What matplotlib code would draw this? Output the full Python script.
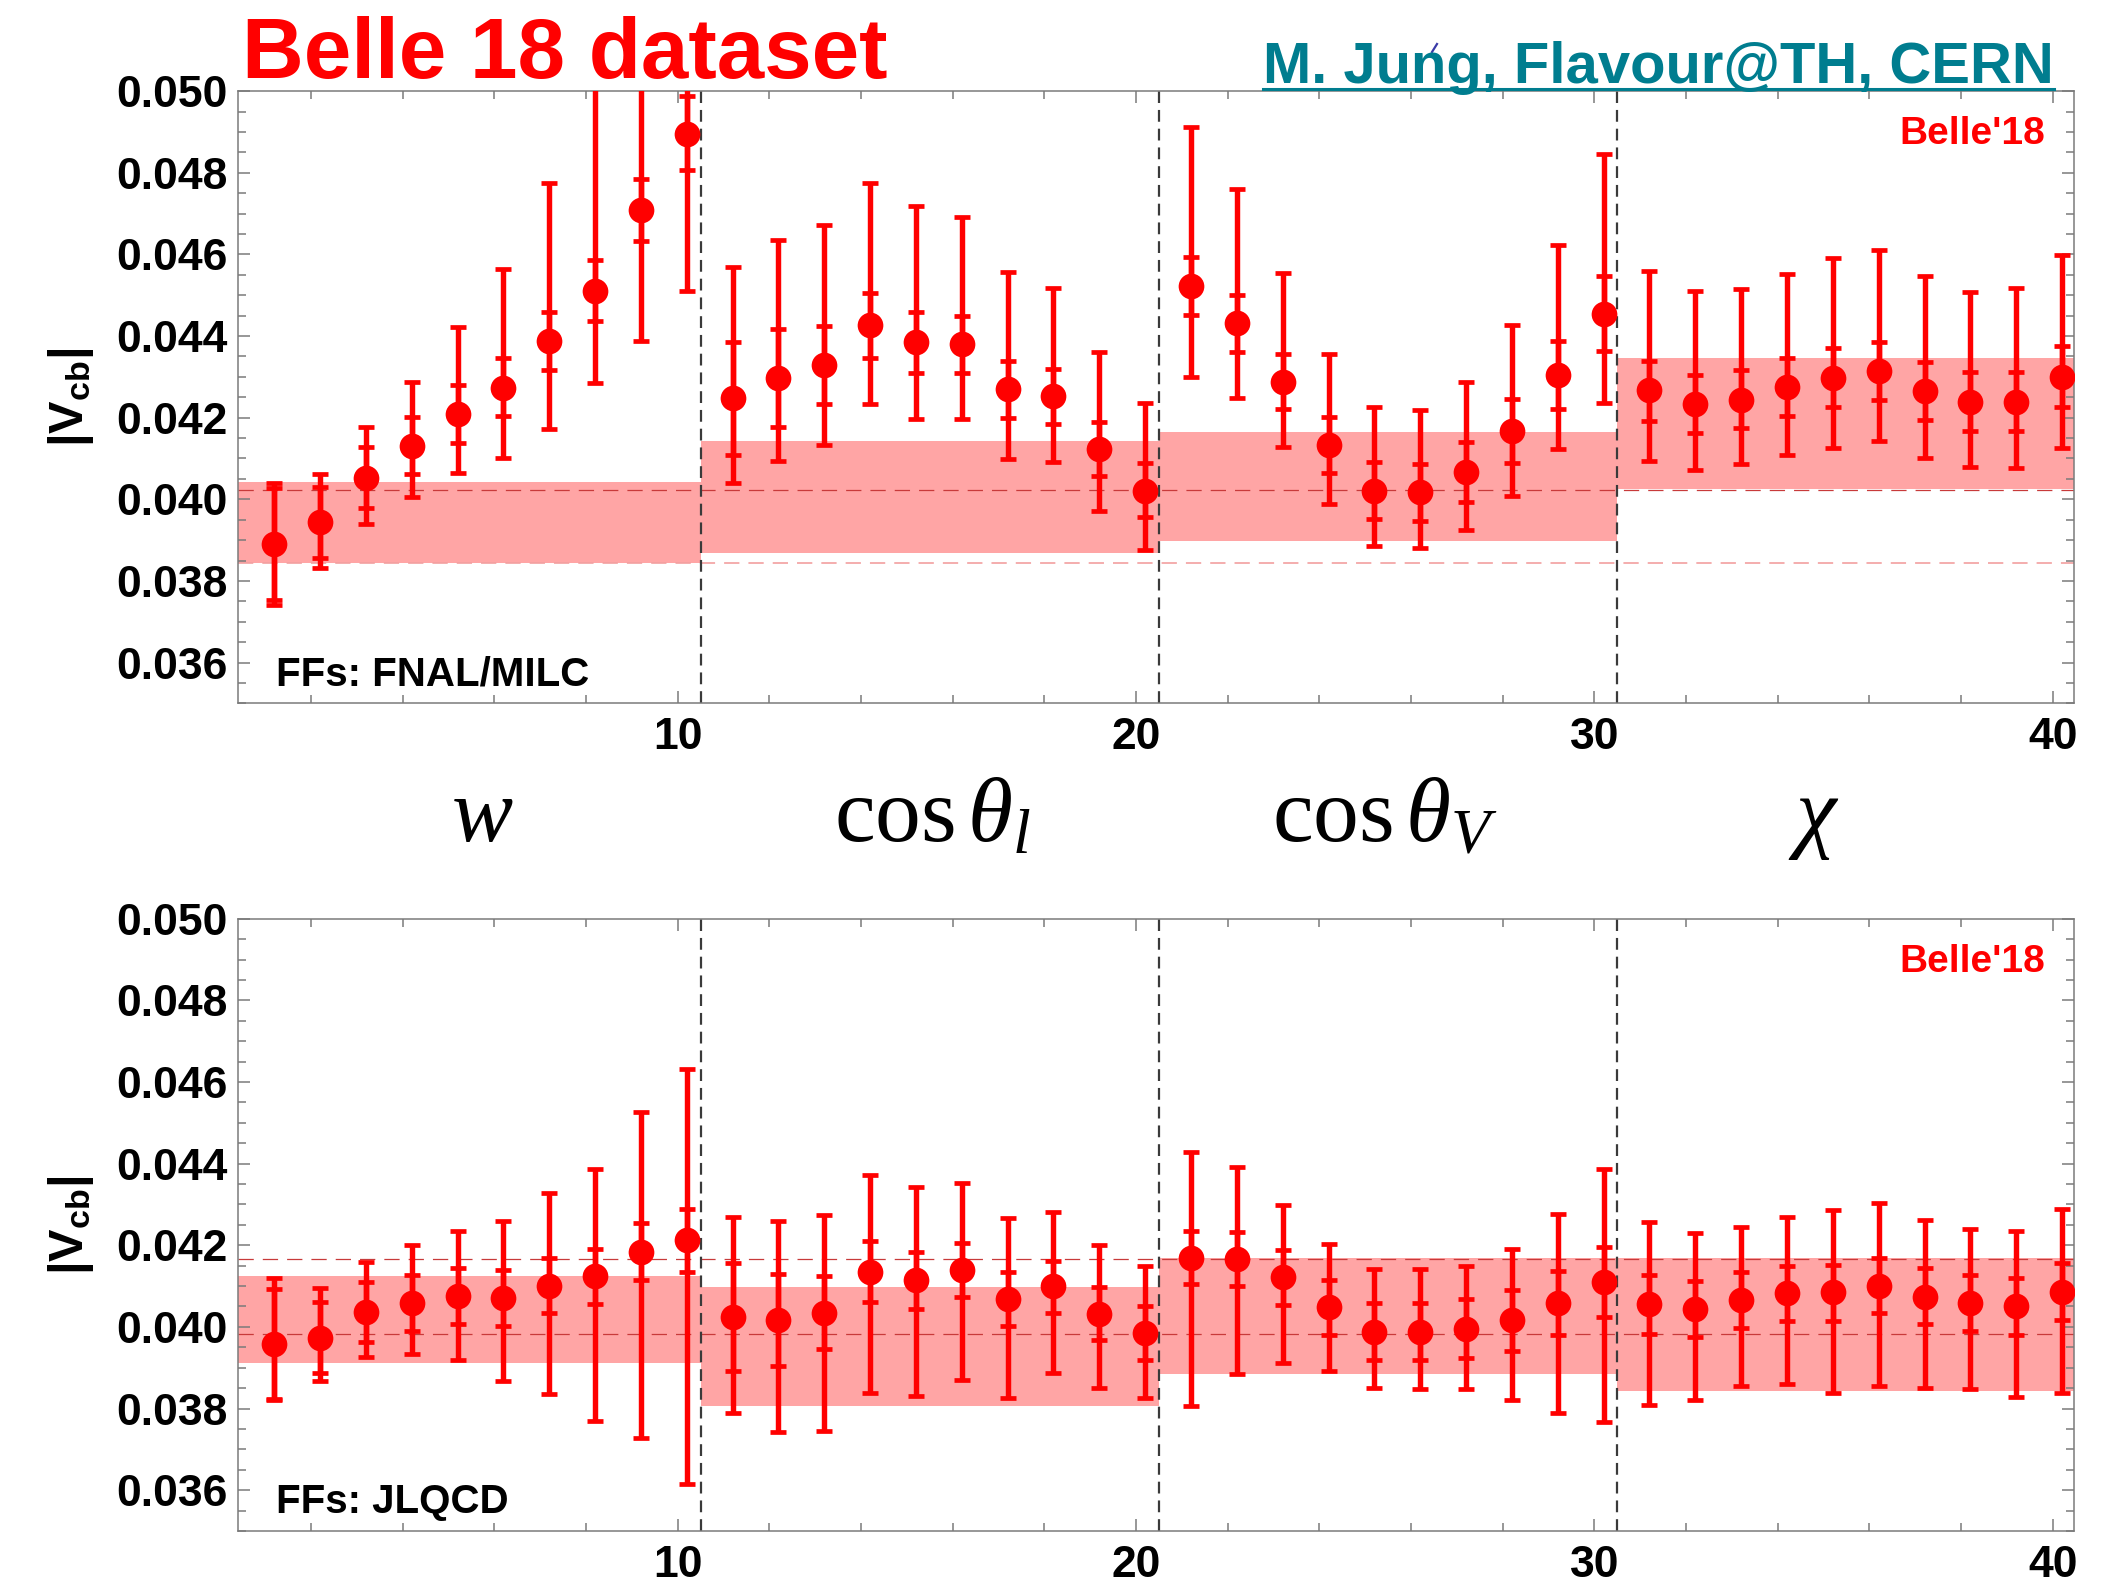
import matplotlib
matplotlib.use("Agg")
import matplotlib.pyplot as plt
from matplotlib.lines import Line2D
from matplotlib.ticker import FixedLocator, MultipleLocator, FormatStrFormatter
import numpy as np

plt.rcParams["font.family"] = ["Liberation Sans", "DejaVu Sans"]
plt.rcParams["mathtext.fontset"] = "custom"
plt.rcParams["mathtext.rm"] = "Liberation Serif"
plt.rcParams["mathtext.it"] = "Liberation Serif:italic"
plt.rcParams["mathtext.bf"] = "Liberation Sans:bold"
plt.rcParams["lines.scale_dashes"] = False

# ---------------------------------------------------------------- data
bins = np.arange(1, 41)
x_pos = bins + 0.2

# |Vcb| per bin, FFs: FNAL/MILC
fnal_val = [0.03890, 0.03944, 0.04053, 0.04130, 0.04208, 0.04273, 0.04388, 0.04511, 0.04709, 0.04896,
            0.04248, 0.04297, 0.04330, 0.04428, 0.04386, 0.04381, 0.04269, 0.04252, 0.04124, 0.04020,
            0.04523, 0.04431, 0.04288, 0.04132, 0.04020, 0.04017, 0.04066, 0.04167, 0.04304, 0.04454,
            0.04267, 0.04233, 0.04243, 0.04274, 0.04297, 0.04314, 0.04266, 0.04238, 0.04238, 0.04299]
fnal_inner_lo = [0.03754, 0.03857, 0.03979, 0.04061, 0.04139, 0.04203, 0.04316, 0.04438, 0.04632, 0.04807,
                 0.04108, 0.04177, 0.04233, 0.04347, 0.04310, 0.04310, 0.04200, 0.04184, 0.04058, 0.03956,
                 0.04452, 0.04362, 0.04220, 0.04064, 0.03952, 0.03946, 0.03993, 0.04088, 0.04221, 0.04363,
                 0.04191, 0.04162, 0.04174, 0.04205, 0.04225, 0.04243, 0.04195, 0.04167, 0.04167, 0.04225]
fnal_inner_hi = [0.04028, 0.04030, 0.04128, 0.04201, 0.04279, 0.04345, 0.04459, 0.04587, 0.04785, 0.04987,
                 0.04386, 0.04416, 0.04425, 0.04505, 0.04459, 0.04449, 0.04338, 0.04318, 0.04190, 0.04088,
                 0.04594, 0.04500, 0.04357, 0.04201, 0.04091, 0.04086, 0.04141, 0.04245, 0.04389, 0.04546,
                 0.04340, 0.04304, 0.04316, 0.04345, 0.04370, 0.04386, 0.04337, 0.04311, 0.04311, 0.04376]
fnal_outer_lo = [0.03741, 0.03831, 0.03939, 0.04005, 0.04064, 0.04101, 0.04172, 0.04284, 0.04388, 0.04510,
                 0.04040, 0.04094, 0.04132, 0.04233, 0.04197, 0.04197, 0.04098, 0.04091, 0.03972, 0.03876,
                 0.04299, 0.04248, 0.04128, 0.03989, 0.03886, 0.03881, 0.03925, 0.04008, 0.04122, 0.04236,
                 0.04093, 0.04071, 0.04086, 0.04109, 0.04125, 0.04142, 0.04101, 0.04079, 0.04076, 0.04125]
fnal_outer_hi = [0.04040, 0.04063, 0.04176, 0.04287, 0.04421, 0.04563, 0.04775, 0.05080, 0.05320, 0.05550,
                 0.04568, 0.04636, 0.04673, 0.04774, 0.04718, 0.04692, 0.04558, 0.04518, 0.04361, 0.04236,
                 0.04911, 0.04761, 0.04554, 0.04357, 0.04225, 0.04218, 0.04288, 0.04426, 0.04622, 0.04846,
                 0.04560, 0.04510, 0.04515, 0.04553, 0.04592, 0.04611, 0.04546, 0.04507, 0.04518, 0.04599]

# |Vcb| per bin, FFs: JLQCD
jlqcd_val = [0.03959, 0.03974, 0.04037, 0.04059, 0.04076, 0.04071, 0.04101, 0.04125, 0.04184, 0.04213,
             0.04025, 0.04018, 0.04035, 0.04135, 0.04114, 0.04139, 0.04069, 0.04099, 0.04032, 0.03984,
             0.04169, 0.04167, 0.04122, 0.04048, 0.03987, 0.03987, 0.03995, 0.04017, 0.04059, 0.04111,
             0.04055, 0.04045, 0.04066, 0.04083, 0.04085, 0.04101, 0.04074, 0.04059, 0.04050, 0.04086]
jlqcd_inner_lo = [0.03824, 0.03888, 0.03964, 0.03990, 0.04008, 0.04003, 0.04033, 0.04055, 0.04116, 0.04135,
                  0.03893, 0.03905, 0.03946, 0.04061, 0.04043, 0.04073, 0.04002, 0.04035, 0.03967, 0.03920,
                  0.04104, 0.04101, 0.04053, 0.03981, 0.03920, 0.03918, 0.03923, 0.03941, 0.03979, 0.04025,
                  0.03982, 0.03976, 0.03998, 0.04015, 0.04015, 0.04033, 0.04007, 0.03990, 0.03981, 0.04017]
jlqcd_inner_hi = [0.04094, 0.04061, 0.04111, 0.04127, 0.04145, 0.04139, 0.04170, 0.04191, 0.04254, 0.04289,
                  0.04157, 0.04130, 0.04125, 0.04210, 0.04184, 0.04205, 0.04135, 0.04162, 0.04097, 0.04050,
                  0.04236, 0.04233, 0.04188, 0.04116, 0.04059, 0.04059, 0.04069, 0.04091, 0.04137, 0.04195,
                  0.04127, 0.04113, 0.04134, 0.04150, 0.04152, 0.04170, 0.04144, 0.04127, 0.04120, 0.04157]
jlqcd_outer_lo = [0.03820, 0.03868, 0.03927, 0.03934, 0.03918, 0.03868, 0.03835, 0.03769, 0.03728, 0.03616,
                  0.03788, 0.03743, 0.03746, 0.03839, 0.03830, 0.03870, 0.03827, 0.03886, 0.03850, 0.03827,
                  0.03807, 0.03885, 0.03912, 0.03893, 0.03850, 0.03847, 0.03847, 0.03820, 0.03788, 0.03768,
                  0.03809, 0.03822, 0.03854, 0.03860, 0.03837, 0.03854, 0.03850, 0.03847, 0.03829, 0.03839]
jlqcd_outer_hi = [0.04119, 0.04096, 0.04160, 0.04200, 0.04236, 0.04259, 0.04327, 0.04388, 0.04526, 0.04631,
                  0.04269, 0.04259, 0.04274, 0.04372, 0.04342, 0.04353, 0.04266, 0.04281, 0.04201, 0.04148,
                  0.04429, 0.04391, 0.04299, 0.04203, 0.04142, 0.04142, 0.04150, 0.04191, 0.04277, 0.04388,
                  0.04257, 0.04230, 0.04245, 0.04269, 0.04287, 0.04304, 0.04262, 0.04240, 0.04236, 0.04289]

# fit bands per observable group (w, cos theta_l, cos theta_V, chi)
fnal_band_lo = [0.03844, 0.03868, 0.03898, 0.04025]
fnal_band_hi = [0.04042, 0.04142, 0.04164, 0.04345]
jlqcd_band_lo = [0.03912, 0.03807, 0.03885, 0.03844]
jlqcd_band_hi = [0.04125, 0.04098, 0.04170, 0.04170]

# horizontal reference lines
fnal_ref_dark = [0.04024]
fnal_ref_light = [0.03844]
jlqcd_ref_dark = [0.04166, 0.03983]
jlqcd_ref_light = []

group_edges = [10.5, 20.5, 30.5]
group_labels = [r"$w$", r"$\cos\theta_l$", r"$\cos\theta_V$", r"$\chi$"]
yticks = [0.036, 0.038, 0.040, 0.042, 0.044, 0.046, 0.048, 0.050]
xticks = [10, 20, 30, 40]

# ---------------------------------------------------------------- style
W, H, DPI = 2120, 1589, 100
XMIN, XMAX = 0.4, 40.45
YMIN, YMAX = 0.035, 0.050
RED = "#ff0000"
BAND = "#ffa5a5"
DARK_REF = "#c83a3a"
LIGHT_REF = "#f2a0a0"
TEAL = "#007d8f"
FRAME = "#7a7a7a"

fig = plt.figure(figsize=(W / DPI, H / DPI), dpi=DPI)


def fx(px):
    return px / W


def fy(py):
    return 1 - py / H


def panel(rect, vals, in_lo, in_hi, out_lo, out_hi, band_lo, band_hi,
          ref_dark, ref_light, tag):
    ax = fig.add_axes(rect)
    ax.set_xlim(XMIN, XMAX)
    ax.set_ylim(YMIN, YMAX)

    edges = [XMIN] + group_edges + [XMAX]
    for k in range(len(band_lo)):
        ax.fill_between([edges[k], edges[k + 1]], band_lo[k], band_hi[k],
                        color=BAND, lw=0, zorder=1)
    for yv in ref_light:
        ax.axhline(yv, color=LIGHT_REF, lw=1.2, dashes=(11, 6.5), zorder=2)
    for yv in ref_dark:
        ax.axhline(yv, color=DARK_REF, lw=0.9, dashes=(11, 6.5), zorder=2)
    for xv in group_edges:
        ax.axvline(xv, color="#3a3a3a", lw=1.6, dashes=(8.5, 5), zorder=2)

    v = np.asarray(vals)
    ax.errorbar(x_pos, v, yerr=[v - np.asarray(out_lo), np.asarray(out_hi) - v],
                fmt="none", ecolor=RED, elinewidth=3.9, capsize=6, capthick=3.4,
                zorder=3)
    ax.errorbar(x_pos, v, yerr=[v - np.asarray(in_lo), np.asarray(in_hi) - v],
                fmt="none", ecolor=RED, elinewidth=3.9, capsize=6, capthick=3.4,
                zorder=3)
    ax.plot(x_pos, v, "o", color=RED, ms=18.5, mec="none", zorder=4)

    ax.xaxis.set_major_locator(FixedLocator(xticks))
    ax.xaxis.set_minor_locator(MultipleLocator(2))
    ax.yaxis.set_major_locator(FixedLocator(yticks))
    ax.yaxis.set_minor_locator(MultipleLocator(0.0005))
    ax.yaxis.set_major_formatter(FormatStrFormatter("%.3f"))
    ax.tick_params(which="both", direction="in", top=True, right=True,
                   color=FRAME, width=1.1)
    ax.tick_params(which="major", length=8.8)
    ax.tick_params(which="minor", length=5.8)
    ax.tick_params(axis="y", which="major", labelsize=32, pad=7)
    ax.tick_params(axis="x", which="major", labelsize=32, pad=10)
    for lbl in ax.get_xticklabels() + ax.get_yticklabels():
        lbl.set_fontweight("bold")
    for sp in ax.spines.values():
        sp.set_color(FRAME)
        sp.set_linewidth(1.1)

    ax.annotate("Belle'18", xy=(1, 1), xycoords="axes fraction",
                xytext=(-28, -25), textcoords="offset pixels",
                ha="right", va="top", fontsize=28, fontweight="bold", color=RED)
    ax.annotate(tag, xy=(0, 0), xycoords="axes fraction",
                xytext=(38, 18), textcoords="offset pixels",
                ha="left", va="baseline", fontsize=29, fontweight="bold",
                color="black")
    return ax


ax_left, ax_right = 237.5, 2073.5
ax_w = fx(ax_right - ax_left)
ax_h = (703.4 - 91.1) / H

top = panel([fx(ax_left), fy(703.4), ax_w, ax_h],
            fnal_val, fnal_inner_lo, fnal_inner_hi, fnal_outer_lo, fnal_outer_hi,
            fnal_band_lo, fnal_band_hi, fnal_ref_dark, fnal_ref_light,
            "FFs: FNAL/MILC")
bottom = panel([fx(ax_left), fy(1531.0), ax_w, ax_h],
               jlqcd_val, jlqcd_inner_lo, jlqcd_inner_hi, jlqcd_outer_lo, jlqcd_outer_hi,
               jlqcd_band_lo, jlqcd_band_hi, jlqcd_ref_dark, jlqcd_ref_light,
               "FFs: JLQCD")

# y-axis labels
for yc in [(91.1 + 703.4) / 2, (918.7 + 1531.0) / 2]:
    fig.text(fx(71), fy(yc), r"$\mathbf{|V_{cb}|}$", rotation=90,
             ha="center", va="center", fontsize=35)

# observable names between the panels
for left_px, lab in zip([451, 834, 1272, 1788], group_labels):
    fig.text(fx(left_px), fy(841), lab, ha="left", va="baseline", fontsize=66)

# headings
fig.text(fx(242), fy(78), "Belle 18 dataset", ha="left", va="baseline",
         fontsize=61.5, fontweight="bold", color=RED)
credit = fig.text(fx(2054), fy(83), "M. Jung, Flavour@TH, CERN", ha="right",
                  va="baseline", fontsize=41.8, fontweight="bold", color=TEAL)

fig.canvas.draw()
bb = credit.get_window_extent(renderer=fig.canvas.get_renderer())
fig.add_artist(Line2D([bb.x0 / W, bb.x1 / W], [fy(88.5), fy(88.5)],
                      transform=fig.transFigure, color=TEAL, lw=2.2))
fig.add_artist(Line2D([fx(1432), fx(1437)], [fy(52), fy(44)],
                      transform=fig.transFigure, color="#3a3aa8", lw=1.6))

fig.savefig("out.png", dpi=DPI)
